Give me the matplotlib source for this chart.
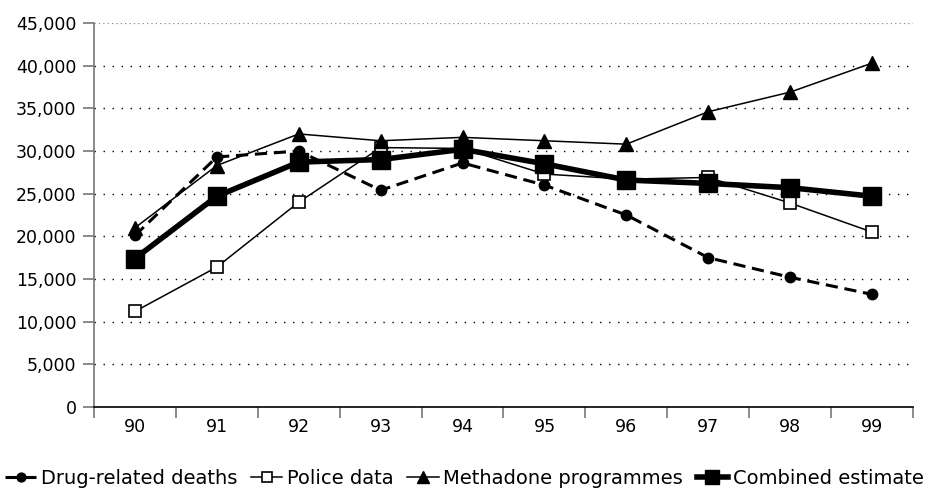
import matplotlib
matplotlib.use("Agg")
import matplotlib.pyplot as plt
from matplotlib.ticker import FuncFormatter, FixedLocator

years = ["90", "91", "92", "93", "94", "95", "96", "97", "98", "99"]
drug_deaths = [20100, 29300, 30000, 25400, 28600, 26000, 22500, 17500, 15200, 13200]
police = [11200, 16400, 24000, 30400, 30300, 27300, 26700, 26900, 23900, 20500]
methadone = [21000, 28300, 32000, 31200, 31600, 31200, 30800, 34600, 36900, 40300]
combined = [17400, 24700, 28700, 29000, 30200, 28500, 26600, 26200, 25700, 24700]
yticks = list(range(0, 45001, 5000))

plt.rcParams['font.family'] = ['DejaVu Sans']

fig = plt.figure(figsize=(9.29, 4.95), dpi=100)
ax = fig.add_axes([94/929, 1-407/495, (913-94)/929, (407-23)/495])

x = list(range(len(years)))

ax.plot(x, drug_deaths, color='black', lw=2.2, dashes=(4.0, 2.2), marker='o', ms=7.5,
        label='Drug-related deaths', zorder=3)
ax.plot(x, police, color='black', lw=1.1, marker='s', ms=8.5, mfc='white', mec='black',
        mew=1.2, label='Police data', zorder=4)
ax.plot(x, methadone, color='black', lw=1.1, marker='^', ms=9.5, label='Methadone programmes',
        zorder=4)
ax.plot(x, combined, color='black', lw=4, marker='s', ms=12.5, label='Combined estimate', zorder=5)

ax.set_xlim(-0.5, len(years) - 0.5)
ax.set_ylim(0, 45000)

ax.set_yticks(yticks)
ax.yaxis.set_major_formatter(FuncFormatter(lambda v, p: f"{int(v):,}"))
for yv in yticks[1:-1]:
    ax.axhline(yv, color='black', lw=1.0, ls=(0, (1, 5.5)), zorder=1)
ax.axhline(yticks[-1], color='#888888', lw=0.9, ls=(0, (1, 2.5)), zorder=1)

ax.xaxis.set_major_locator(FixedLocator([i - 0.5 for i in range(len(years) + 1)]))
ax.xaxis.set_minor_locator(FixedLocator(x))
ax.set_xticklabels([])
ax.set_xticklabels(years, minor=True)
ax.tick_params(axis='x', which='major', direction='out', length=8, width=1.2, color='#777777')
ax.tick_params(axis='x', which='minor', length=0, pad=8, labelsize=12.5)
ax.tick_params(axis='y', direction='out', length=8, width=1.2, color='#777777', labelsize=12.5, pad=4.5)

for s in ['top', 'right']:
    ax.spines[s].set_visible(False)
ax.spines['left'].set_color('#777777')
ax.spines['left'].set_linewidth(1.2)
ax.spines['bottom'].set_color('black')
ax.spines['bottom'].set_linewidth(1.2)

fig.legend(loc='center', bbox_to_anchor=(0.5, 1-478/495), ncol=4, frameon=False,
           fontsize=14, handlelength=1.6, handletextpad=0.25, columnspacing=0.7,
           markerscale=0.85)

fig.savefig('out.png', dpi=100)
